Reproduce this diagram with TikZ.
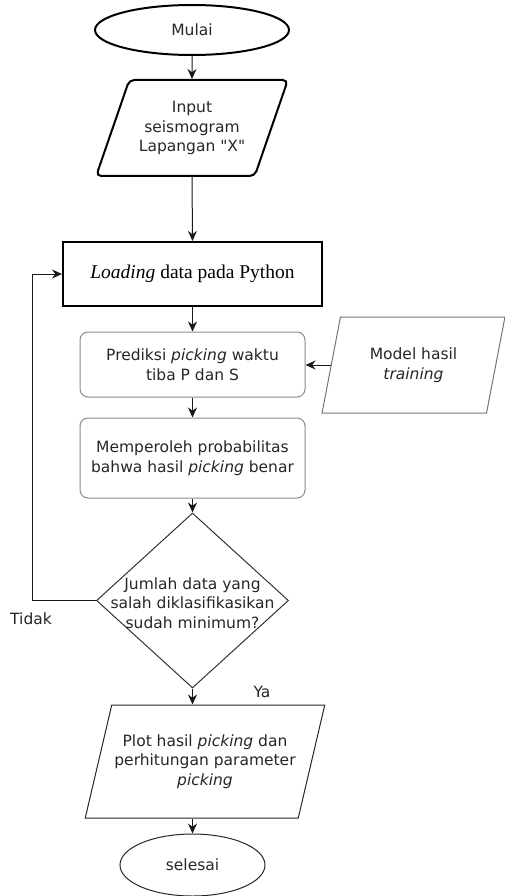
\documentclass[tikz,border=0pt]{standalone}
\usepackage{fontspec}
\setmainfont{DejaVu Sans}[Ligatures=TeXOff]
\newfontfamily\loadfont{Liberation Serif}
\usepackage{tikz}
\usetikzlibrary{shapes,arrows,arrows.meta,positioning,calc}
\tikzstyle{terminal} = [ellipse, draw=black!85, line width=1pt, minimum width=145pt, minimum height=62pt]
\tikzstyle{process} = [rectangle, rounded corners=8pt, draw=black!45, line width=1pt, minimum width=225pt, align=center]
\tikzstyle{io} = [trapezium, trapezium left angle=65, trapezium right angle=115, trapezium stretches=true, draw, inner xsep=0pt, align=center]
\tikzstyle{decision} = [diamond, draw=black!80, line width=1pt, minimum width=192pt, minimum height=175pt, inner sep=0pt]
\tikzstyle{flow} = [draw=black!90, line width=1pt, -{Stealth[length=10pt,width=9pt]}]

\begin{document}
\begin{tikzpicture}[x=1pt, y=-1pt,
    every node/.style={font=\fontsize{15.5}{19.5}\selectfont, text=black!85}]
    \useasboundingbox (0,0) rectangle (505,896);

    \node[terminal, line width=2pt, draw=black, minimum width=194pt, minimum height=50pt] (start) at (192,30) {Mulai};
    \node[io, line width=2pt, rounded corners=5pt, minimum width=192pt, minimum height=96pt] (input) at (192,128) {Input\\seismogram\\Lapangan "X"};

    \node[draw=black, line width=2pt, minimum width=259pt, minimum height=64pt, text height=13pt, text depth=5pt,
          font=\loadfont\fontsize{19.5}{23}\selectfont, text=black] (load) at (192.5,274) {\textit{Loading} data pada Python};

    \node[process, minimum height=65pt] (pred) at (192.5,364.5) {Prediksi \textit{picking} waktu\\tiba P dan S};
    \node[process, minimum height=80pt] (prob) at (192.5,458) {Memperoleh probabilitas\\bahwa hasil \textit{picking} benar};
    \node[io, draw=black!55, line width=1pt, trapezium left angle=75, trapezium right angle=105,
          minimum width=183pt, minimum height=96pt] (model) at (413.5,365) {Model hasil\\\textit{training}};

    \node[decision] (check) at (192.5,600.5) {};
    \node[align=center] (checktext) at (192.5,603) {Jumlah data yang\\salah diklasifikasikan\\sudah minimum?};
    \coordinate (back) at (32,600.5);
    \node (tidak) at (31,619) {Tidak};
    \node (ya) at (262,692) {Ya};

    \node[io, draw=black!85, line width=1pt, trapezium left angle=67, trapezium right angle=113,
          minimum width=240pt, minimum height=113pt] (plot) at (205,761.5) {Plot hasil \textit{picking} dan\\perhitungan parameter\\\textit{picking}};
    \node[terminal] (finish) at (192.5,865) {selesai};

    % alur utama
    \draw[flow] (start.south) -- (input.north);
    \draw[flow] (input.south) -- (load.north);
    \draw[flow] (load.south) -- (pred.north);
    \draw[flow] (model.left side) -- (model.left side -| pred.east);
    \draw[flow] (pred.south) -- (prob.north);
    \draw[flow] (prob.south) -- (check.north);
    \draw[flow] (check.south) -- (check.south |- plot.north);
    \draw[flow] (plot.south -| finish.north) -- (finish.north);
    % kembali jika belum minimum
    \draw[flow] (check.west) -- (back) |- (load.west);
\end{tikzpicture}
\end{document}
